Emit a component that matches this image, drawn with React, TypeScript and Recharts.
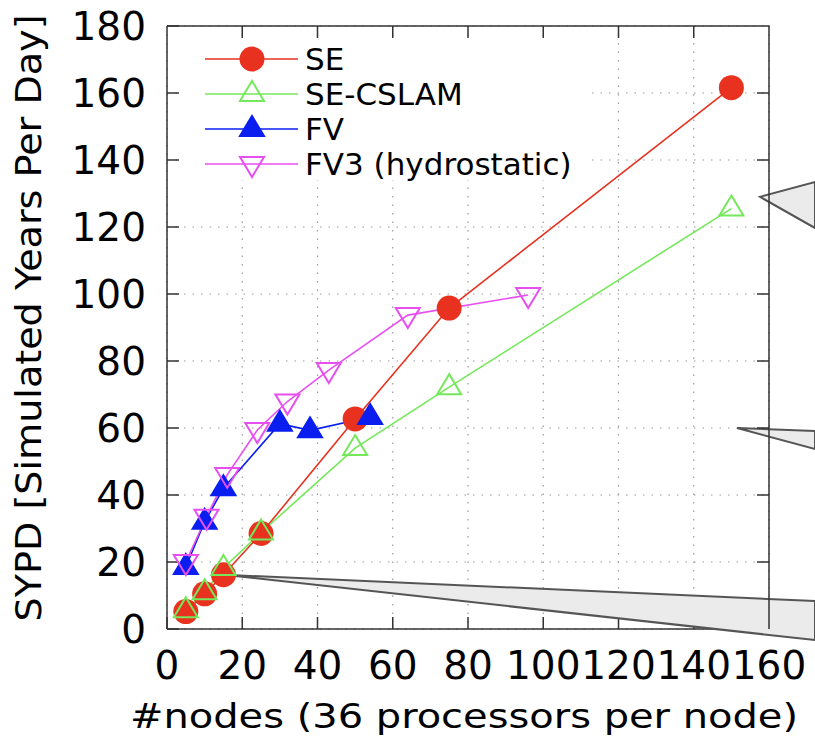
import React from 'react';
import { LineChart, Line, XAxis, YAxis, CartesianGrid, Legend, ReferenceDot } from 'recharts';

// nodes (x) and SYPD (y) per model
const seNodes = [5, 10, 15, 25, 50, 75, 150];
const seSypd = [5.2, 10.5, 16.2, 28.5, 62.7, 95.8, 161.6];
const cslamNodes = [5, 10, 15, 25, 50, 75, 150];
const cslamSypd = [5.6, 11, 18.2, 28.8, 54, 72.2, 125.5];
const fvNodes = [5, 10, 15, 30, 38, 54];
const fvSypd = [18.5, 32, 42, 61.3, 59.3, 63.3];
const fv3Nodes = [5, 10.5, 16, 24, 32, 43, 64, 96];
const fv3Sypd = [20, 33.5, 46, 59.4, 67.9, 77.3, 93.7, 99.7];

const xTicks = [0, 20, 40, 60, 80, 100, 120, 140, 160];
const yTicks = [0, 20, 40, 60, 80, 100, 120, 140, 160, 180];

const FONT = 'DejaVu Sans';
const AXIS = '#333';
const W = 815;
const H = 738;
const MARGIN = { top: 26, right: 46, bottom: 49, left: 37 };
const Y_AXIS_W = 130;
const X_AXIS_H = 60;
const PLOT_LEFT = MARGIN.left + Y_AXIS_W;
const PLOT_RIGHT = W - MARGIN.right;
const PLOT_TOP = MARGIN.top;
const PLOT_BOTTOM = H - MARGIN.bottom - X_AXIS_H;

const series = [
  { name: 'SE', color: '#e8321f', marker: 'circle', x: seNodes, y: seSypd },
  { name: 'SE-CSLAM', color: '#74e85a', marker: 'upOpen', x: cslamNodes, y: cslamSypd },
  { name: 'FV', color: '#0a1ef0', marker: 'upFilled', x: fvNodes, y: fvSypd },
  { name: 'FV3 (hydrostatic)', color: '#e84ff0', marker: 'downOpen', x: fv3Nodes, y: fv3Sypd },
];

const Marker = ({ kind, cx, cy, color }: any) => {
  if (cx == null || cy == null) return null;
  if (kind === 'circle') return <circle cx={cx} cy={cy} r={12.5} fill={color} />;
  if (kind === 'downOpen') {
    return (
      <polygon
        points={`${cx - 12},${cy - 7} ${cx + 12},${cy - 7} ${cx},${cy + 13}`}
        fill="none"
        stroke={color}
        strokeWidth={2}
      />
    );
  }
  const filled = kind === 'upFilled';
  return (
    <polygon
      points={`${cx},${cy - 13} ${cx + 12},${cy + 7} ${cx - 12},${cy + 7}`}
      fill={filled ? color : 'none'}
      stroke={color}
      strokeWidth={2}
    />
  );
};

// gray callouts pointing out of the panel
const Callout = ({ cx, cy, top, bottom }: any) => (
  <polygon
    points={`${cx},${cy} ${W},${top} ${W},${bottom}`}
    fill="#ebebeb"
    stroke="#555"
    strokeWidth={2}
  />
);

// top/right border with inward mirror ticks, laid over the chart
const FrameOverlay = () => {
  const px = (v: number) => PLOT_LEFT + ((PLOT_RIGHT - PLOT_LEFT) * v) / 160;
  const py = (v: number) => PLOT_BOTTOM - ((PLOT_BOTTOM - PLOT_TOP) * v) / 180;
  return (
    <svg
      width={W}
      height={H}
      style={{ position: 'absolute', left: 0, top: 0, pointerEvents: 'none' }}
    >
      <path
        d={`M${PLOT_LEFT},${PLOT_TOP}H${PLOT_RIGHT}V${PLOT_BOTTOM}`}
        fill="none"
        stroke={AXIS}
        strokeWidth={1.5}
      />
      {xTicks.slice(1, -1).map((v) => (
        <line key={`t${v}`} x1={px(v)} x2={px(v)} y1={PLOT_TOP} y2={PLOT_TOP + 12} stroke={AXIS} strokeWidth={1.5} />
      ))}
      {yTicks.slice(1, -1).map((v) => (
        <line key={`r${v}`} x1={PLOT_RIGHT - 12} x2={PLOT_RIGHT} y1={py(v)} y2={py(v)} stroke={AXIS} strokeWidth={1.5} />
      ))}
    </svg>
  );
};

const LegendBox = () => (
  <div style={{ background: '#fff', width: 410, height: 140 }}>
    <svg width={410} height={140} style={{ overflow: 'visible' }}>
      {series.map((s, i) => {
        const y = 19 + i * 35;
        return (
          <g key={s.name}>
            <line x1={23} x2={116} y1={y} y2={y} stroke={s.color} strokeWidth={1.6} />
            <Marker kind={s.marker} cx={70} cy={y} color={s.color} />
            <text x={123} y={y + 11} fontSize={31} fontFamily={FONT} fill="#000">
              {s.name}
            </text>
          </g>
        );
      })}
    </svg>
  </div>
);

export default function App() {
  const tickStyle = { fontSize: 39, fill: '#000', fontFamily: FONT };
  return (
    <div style={{ position: 'absolute', left: 0, top: 0, width: W, height: H, background: '#fff' }}>
      <LineChart width={W} height={H} margin={MARGIN}>
        <CartesianGrid stroke="#9a9a9a" strokeDasharray="1.5 7" strokeWidth={1.2} />
        <XAxis
          type="number"
          dataKey="nodes"
          domain={[0, 160]}
          ticks={xTicks}
          interval={0}
          allowDataOverflow
          height={X_AXIS_H}
          tickSize={-12}
          tickMargin={34}
          stroke={AXIS}
          strokeWidth={1.5}
          tick={tickStyle}
          label={{
            content: () => (
              <text
                x={464}
                y={728}
                textAnchor="middle"
                fontSize={33}
                fontFamily={FONT}
                textLength={668}
                lengthAdjust="spacingAndGlyphs"
                fill="#000"
              >
                #nodes (36 processors per node)
              </text>
            ),
          }}
        />
        <YAxis
          type="number"
          domain={[0, 180]}
          ticks={yTicks}
          interval={0}
          allowDataOverflow
          width={Y_AXIS_W}
          tickSize={-12}
          tickMargin={33}
          stroke={AXIS}
          strokeWidth={1.5}
          tick={tickStyle}
          label={{
            content: () => (
              <text
                transform="translate(41,318) rotate(-90)"
                textAnchor="middle"
                fontSize={35}
                fontFamily={FONT}
                textLength={607}
                lengthAdjust="spacingAndGlyphs"
                fill="#000"
              >
                SYPD [Simulated Years Per Day]
              </text>
            ),
          }}
        />
        <ReferenceDot x={157.6} y={129} r={0} shape={(p: any) => <Callout {...p} top={182} bottom={228} />} />
        <ReferenceDot x={151.5} y={60} r={0} shape={(p: any) => <Callout {...p} top={431} bottom={449} />} />
        <ReferenceDot x={15} y={16.2} r={0} shape={(p: any) => <Callout {...p} top={601} bottom={640} />} />
        {series.map((s) => (
          <Line
            key={s.name}
            name={s.name}
            data={s.x.map((n, i) => ({ nodes: n, sypd: s.y[i] }))}
            dataKey="sypd"
            stroke={s.color}
            strokeWidth={1.6}
            isAnimationActive={false}
            dot={(p: any) => <Marker key={`${s.name}-${p.index}`} kind={s.marker} cx={p.cx} cy={p.cy} color={s.color} />}
            activeDot={false}
          />
        ))}
        <Legend
          layout="horizontal"
          verticalAlign="middle"
          align="center"
          content={() => <LegendBox />}
          wrapperStyle={{ left: 182, top: 40, width: 410, height: 140 }}
        />
      </LineChart>
      <FrameOverlay />
    </div>
  );
}
